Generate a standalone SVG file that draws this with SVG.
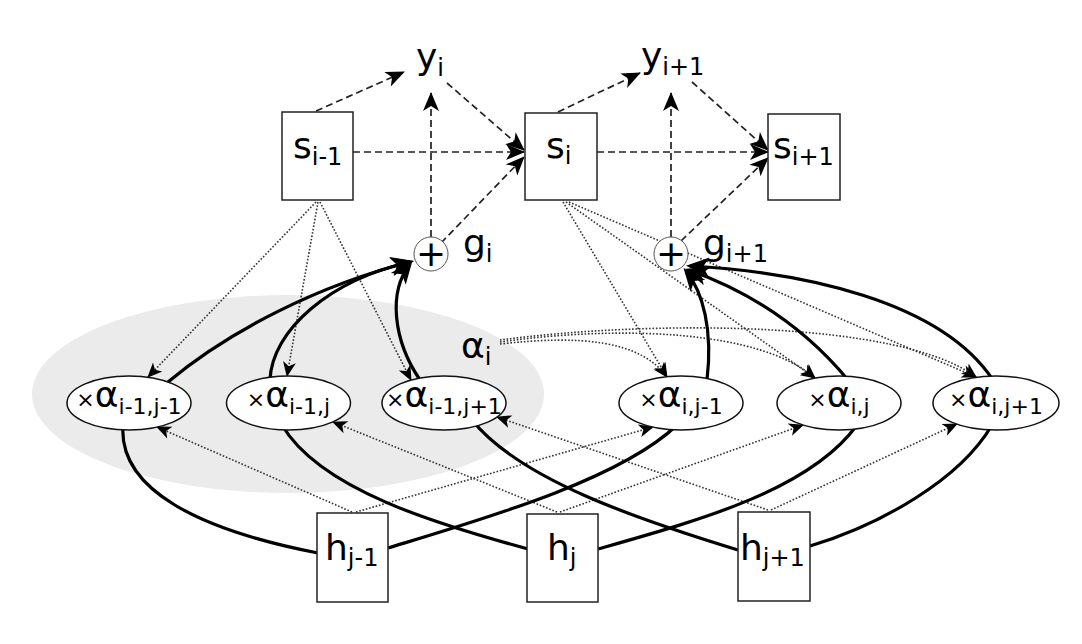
<svg xmlns="http://www.w3.org/2000/svg" width="1082" height="644" viewBox="0 0 1082 644">
<style>
text{font-family:"DejaVu Sans","Liberation Sans",sans-serif;fill:#000}
.big{font-size:36px}
.sub{font-size:24px}
.el{font-size:36px;text-anchor:middle}
.sm{font-size:22px}
.plus{font-size:36px;text-anchor:middle}
.box{fill:#fff;stroke:#222;stroke-width:1.5}
.ell{fill:#fff;stroke:#111;stroke-width:1.5}
.circ{fill:#fff;stroke:#555;stroke-width:1}
.dash{fill:none;stroke:#222;stroke-width:1.7;stroke-dasharray:7 4;marker-end:url(#ad)}
.dot{fill:none;stroke:#333;stroke-width:1.6;stroke-dasharray:1.6 1.8;marker-end:url(#ao)}
.thick{fill:none;stroke:#000;stroke-width:3.2}
.arr{marker-end:url(#as)}
</style>
<defs>
<marker id="ad" viewBox="-20 -10 22 20" refX="0" refY="0" markerWidth="22" markerHeight="20" markerUnits="userSpaceOnUse" orient="auto"><path d="M1,0 L-18,-8 L-13,0 L-18,8 Z" fill="#000"/></marker>
<marker id="ao" viewBox="-16 -8 18 16" refX="0" refY="0" markerWidth="18" markerHeight="16" markerUnits="userSpaceOnUse" orient="auto"><path d="M1,0 L-14,-6.5 L-10,0 L-14,6.5 Z" fill="#000"/></marker>
<marker id="as" viewBox="-22 -11 28 22" refX="0" refY="0" markerWidth="28" markerHeight="22" markerUnits="userSpaceOnUse" orient="auto"><path d="M4,0 L-19,-9.5 L-13,0 L-19,9.5 Z" fill="#000"/></marker>
</defs>

<g id="attention_region">
<ellipse cx="288" cy="394" rx="256" ry="99" fill="#ebebeb"/>
</g>

<g id="connectors">
<path class="dash" d="M316,111 L404,72"/>
<path class="dash" d="M447,83 L524,150"/>
<path class="dash" d="M353,152 L524,152"/>
<path class="dash" d="M431,237 L431,93"/>
<path class="dash" d="M441,243 L524,157"/>
<path class="dash" d="M558,112 L640,73"/>
<path class="dash" d="M692,82 L768,150"/>
<path class="dash" d="M597,152 L768,152"/>
<path class="dash" d="M671,237 L671,93"/>
<path class="dash" d="M681,241 L768,158"/>
<path class="dot" d="M316,202 L148,377"/>
<path class="dot" d="M318,202 L287,376"/>
<path class="dot" d="M320,202 L411,380"/>
<path class="dot" d="M563,202 L667,377"/>
<path class="dot" d="M566,202 L815,378"/>
<path class="dot" d="M569,202 L976,377"/>
<path class="dot" d="M500,344 C580,335 640,340 667,377"/>
<path class="dot" d="M500,342 C620,325 760,330 815,378"/>
<path class="dot" d="M500,340 C650,320 900,320 976,377"/>
<path class="dot" d="M352,512 L157,427"/>
<path class="dot" d="M356,512 L653,427"/>
<path class="dot" d="M557,512 L333,422"/>
<path class="dot" d="M560,512 L803,425"/>
<path class="dot" d="M768,510 L497,417"/>
<path class="dot" d="M771,510 L957,424"/>
<path class="thick" d="M318,553 C200,530 118,490 123,425"/>
<path class="thick" d="M388,548 C480,520 620,480 677,425"/>
<path class="thick" d="M528,549 C440,525 320,490 282,425"/>
<path class="thick" d="M598,549 C700,520 810,490 857,425"/>
<path class="thick" d="M738,550 C640,520 520,480 472,420"/>
<path class="thick" d="M810,546 C880,525 960,480 992,425"/>
<path class="thick arr" d="M168,382 C230,330 320,285 410,262"/>
<path class="thick arr" d="M270,380 C272,330 330,280 410,262"/>
<path class="thick arr" d="M420,380 C393,340 388,292 410,264"/>
<path class="thick arr" d="M707,380 C713,330 703,292 686,271"/>
<path class="thick arr" d="M848,380 C800,322 745,290 689,270"/>
<path class="thick arr" d="M993,380 C940,300 800,272 690,266"/>
</g>

<g id="s_im1"><rect class="box" x="282" y="112" width="71" height="88"/><text class="big" x="293" y="158">s<tspan class="sub" dy="7">i-1</tspan></text></g>
<g id="s_i"><rect class="box" x="525" y="113" width="72" height="87"/><text class="big" x="546" y="158">s<tspan class="sub" dy="6">i</tspan></text></g>
<g id="s_ip1"><rect class="box" x="768" y="114" width="72" height="86"/><text class="big" x="773" y="158">s<tspan class="sub" dy="7">i+1</tspan></text></g>

<g id="y_i"><text class="big" x="416" y="69">y<tspan class="sub" dy="7">i</tspan></text></g>
<g id="y_ip1"><text class="big" x="641" y="68">y<tspan class="sub" dy="7">i+1</tspan></text></g>

<g id="g_i"><circle class="circ" cx="431" cy="254" r="17"/><text class="plus" x="431" y="266">+</text><text class="big" x="463" y="255">g<tspan class="sub" dy="7">i</tspan></text></g>
<g id="g_ip1"><circle class="circ" cx="671" cy="254" r="17"/><text class="plus" x="671" y="266">+</text><text class="big" x="703" y="255">g<tspan class="sub" dy="7">i+1</tspan></text></g>

<g id="alpha_i"><text class="big" x="461" y="358">α<tspan class="sub" dy="7">i</tspan></text></g>

<g id="a_im1_jm1"><ellipse class="ell" cx="129" cy="403" rx="62" ry="27"/><text class="el" x="129" y="407"><tspan class="sm">×</tspan>α<tspan class="sm" dy="7">i-1,j-1</tspan></text></g>
<g id="a_im1_j"><ellipse class="ell" cx="288.5" cy="403" rx="62" ry="27"/><text class="el" x="288.5" y="407"><tspan class="sm">×</tspan>α<tspan class="sm" dy="7">i-1,j</tspan></text></g>
<g id="a_im1_jp1"><ellipse class="ell" cx="444" cy="403" rx="62" ry="27"/><text class="el" x="444" y="407"><tspan class="sm">×</tspan>α<tspan class="sm" dy="7">i-1,j+1</tspan></text></g>
<g id="a_i_jm1"><ellipse class="ell" cx="681" cy="403" rx="62" ry="27"/><text class="el" x="681" y="407"><tspan class="sm">×</tspan>α<tspan class="sm" dy="7">i,j-1</tspan></text></g>
<g id="a_i_j"><ellipse class="ell" cx="839" cy="403" rx="62" ry="27"/><text class="el" x="839" y="407"><tspan class="sm">×</tspan>α<tspan class="sm" dy="7">i,j</tspan></text></g>
<g id="a_i_jp1"><ellipse class="ell" cx="996" cy="403" rx="63" ry="27"/><text class="el" x="996" y="407"><tspan class="sm">×</tspan>α<tspan class="sm" dy="7">i,j+1</tspan></text></g>

<g id="h_jm1"><rect class="box" x="317" y="513" width="71" height="89"/><text class="big" x="325" y="560">h<tspan class="sub" dy="6">j-1</tspan></text></g>
<g id="h_j"><rect class="box" x="527" y="514" width="71" height="88"/><text class="big" x="547" y="560">h<tspan class="sub" dy="6">j</tspan></text></g>
<g id="h_jp1"><rect class="box" x="738" y="512" width="72" height="89"/><text class="big" x="740" y="560">h<tspan class="sub" dy="6">j+1</tspan></text></g>
</svg>
